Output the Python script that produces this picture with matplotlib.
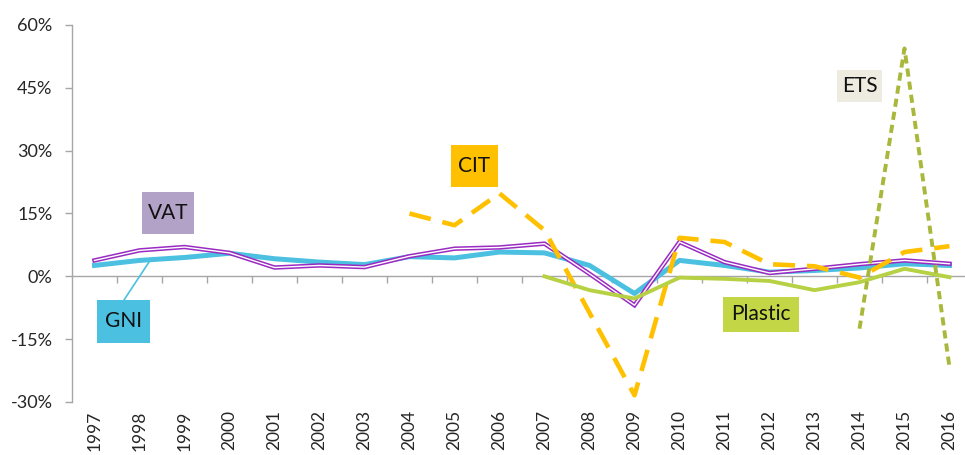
import matplotlib
matplotlib.use("Agg")
import matplotlib.pyplot as plt
import numpy as np
from matplotlib.patches import Rectangle
from matplotlib.ticker import FuncFormatter, FixedLocator

plt.rcParams['font.family'] = ['Lato', 'DejaVu Sans']

years = [str(y) for y in range(1997, 2017)]
gni = [2.6, 3.8, 4.5, 5.5, 4.2, 3.4, 2.8, 4.7, 4.4, 5.8, 5.6, 2.6, -4.1, 3.8, 2.6, 1.0, 1.4, 2.0, 3.0, 2.6]
vat = [3.8, 6.2, 7.0, 5.6, 2.1, 2.6, 2.2, 4.8, 6.6, 6.9, 7.8, 0.6, -6.9, 8.2, 3.4, 0.8, 1.8, 2.9, 3.8, 3.0]
cit_years = years[7:]
cit = [15.0, 12.2, 19.8, 11.0, -8.7, -28.4, 9.2, 8.2, 2.9, 2.4, -0.3, 5.8, 7.2]
plastic_years = years[10:]
plastic = [0.0, -3.3, -5.3, -0.3, -0.6, -1.1, -3.3, -1.4, 1.8, -0.2]
ets_years = years[17:]
ets = [-12.5, 54.4, -21.7]
yticks = [-30, -15, 0, 15, 30, 45, 60]

C_GNI = '#4BC0E0'
C_VAT = '#9A2BC2'
C_CIT = '#FFC000'
C_PLA = '#B6D144'
C_ETS = '#A9B83B'
C_AX = '#A6A6A6'
C_TXT = '#262626'

fig = plt.figure(figsize=(9.65, 4.55), dpi=100)
ax = fig.add_axes([72/965, 53/455, 900/965, 377/455])

x_all = np.arange(len(years))
idx = {y: i for i, y in enumerate(years)}

ax.plot(x_all, gni, color=C_GNI, lw=3.6, solid_joinstyle='round', zorder=2)
ax.plot(x_all, vat, color=C_VAT, lw=3.2, solid_joinstyle='miter', zorder=3)
ax.plot(x_all, vat, color='white', lw=1.0, solid_joinstyle='miter', zorder=3.1)
l_cit, = ax.plot([idx[y] for y in cit_years], cit, color=C_CIT, lw=3.3,
                 dash_capstyle='butt', zorder=4)
l_cit.set_dashes([4.8, 2.6])
ax.plot([idx[y] for y in plastic_years], plastic, color=C_PLA, lw=2.8, zorder=5)
l_ets, = ax.plot([idx[y] for y in ets_years], ets, color=C_ETS, lw=2.8,
                 dash_capstyle='butt', zorder=6)
l_ets.set_dashes([2.1, 1.3])

ax.set_xlim(-0.5, len(years) - 0.5)
ax.set_ylim(-30, 60)

for s in ['top', 'right']:
    ax.spines[s].set_visible(False)
ax.spines['left'].set_color(C_AX)
ax.spines['left'].set_linewidth(1.0)
ax.spines['bottom'].set_position(('data', 0))
ax.spines['bottom'].set_color(C_AX)
ax.spines['bottom'].set_linewidth(1.0)
ax.spines['bottom'].set_zorder(1)

ax.set_yticks(yticks)
ax.yaxis.set_major_formatter(FuncFormatter(lambda v, p: f"{int(v)}%"))
ax.tick_params(axis='y', length=5, width=1, color=C_AX, labelsize=13,
               labelcolor=C_TXT, pad=9)

ax.xaxis.set_major_locator(FixedLocator(np.arange(0.5, len(years) - 0.5, 1.0)))
ax.tick_params(axis='x', length=5, width=1, color=C_AX, labelbottom=False)

sec = ax.secondary_xaxis(0.0)
sec.set_xticks(x_all)
sec.set_xticklabels(years, rotation=90, fontsize=12.5, color=C_TXT)
sec.tick_params(length=0, pad=6)
sec.spines['bottom'].set_visible(False)

def label(x0, x1, y0, y1, text, fc, size=15):
    ax.add_patch(Rectangle((x0, y0), x1 - x0, y1 - y0, transform=ax.transAxes,
                           facecolor=fc, edgecolor='none', zorder=8, clip_on=False))
    ax.text((x0 + x1) / 2, (y0 + y1) / 2, text, transform=ax.transAxes,
            ha='center', va='center', fontsize=size, color='#111111', zorder=9)

ax.plot([0.0578, 0.0856], [0.2706, 0.3714], transform=ax.transAxes,
        color=C_GNI, lw=1.2, zorder=7)
label(0.0774, 0.1359, 0.4448, 0.5578, 'VAT', '#B3A2C7')
label(0.0278, 0.0867, 0.1565, 0.2706, 'GNI', '#4BC0E0')
label(0.4211, 0.4730, 0.5711, 0.6825, 'CIT', '#FFC000')
label(0.8497, 0.9003, 0.7950, 0.8806, 'ETS', '#EEECE1')
label(0.7233, 0.8078, 0.1865, 0.2785, 'Plastic', '#C3D645')

fig.savefig('out.png', dpi=100)
